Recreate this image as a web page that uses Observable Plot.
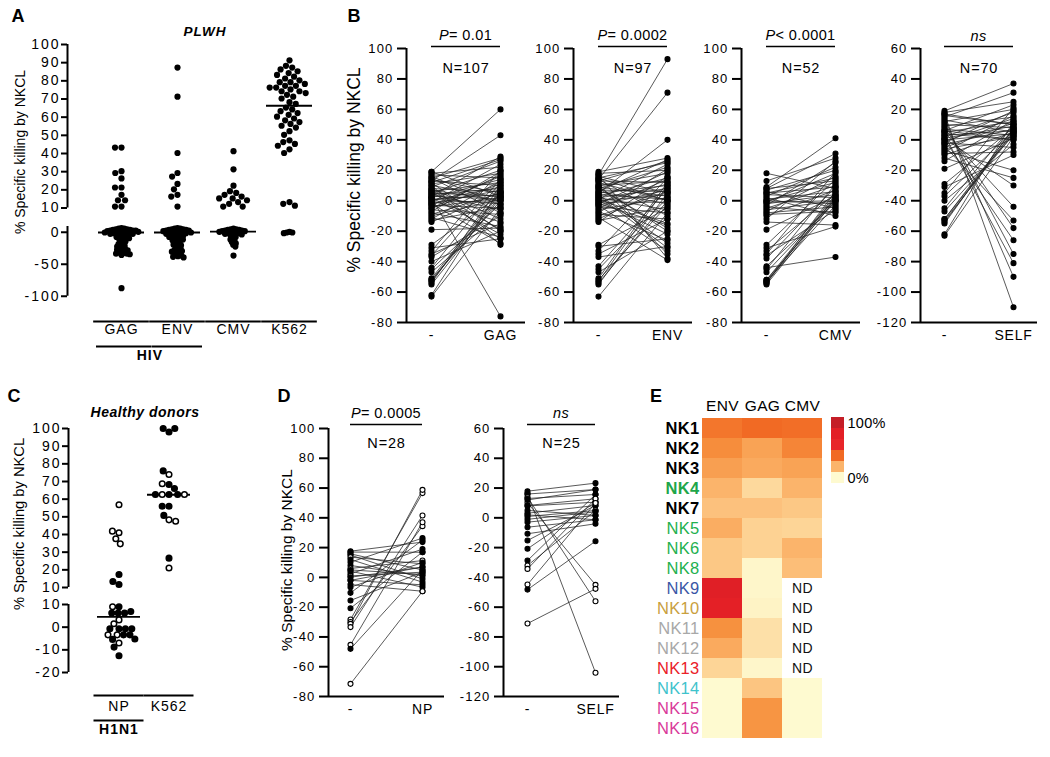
<!DOCTYPE html>
<html><head><meta charset="utf-8">
<script src="https://cdn.jsdelivr.net/npm/d3@7"></script>
<script src="https://cdn.jsdelivr.net/npm/@observablehq/plot@0.6"></script>
<style>
html,body{margin:0;padding:0;background:#fff;}
#fig{position:relative;width:1050px;height:757px;overflow:hidden;background:#fff;}
</style></head>
<body><div id="fig"></div>
<script>
// ---------------- DATA ----------------
// Panel A (PLWH) – % specific killing by NKCL
const A_CATS = ["GAG", "ENV", "CMV", "K562"];
const A_GAG = [43, 43, 30, 29, 26, 21, 21, 17, 14, 14, 10.5, 10.5,
  7, 6, 6, 5, 5, 4, 4, 3, 3, 3, 2, 2, 1, 1, 1, 0, 0, 0, -1, -1, -2, -2, -3, -4, -5, -6, -7, -8, -9,
  -11, -12, -14, -15, -17, -18, -20, -21, -22, -24, -25, -26, -27, -28, -30, -31, -32, -33, -33, -34, -35, -87];
const A_ENV = [87, 71, 40, 29, 27, 23, 20, 17, 16, 10.5,
  7, 6, 6, 5, 5, 4, 4, 3, 3, 2, 2, 1, 1, 0, 0, 0, -1, -1, -2, -3, -4, -4, -5, -6, -7, -8, -9,
  -10, -11, -12, -13, -15, -16, -18, -19, -20, -22, -24, -25, -27, -28, -29, -30, -31, -33, -35, -36, -37, -38, -39];
const A_CMV = [41, 31, 22, 19, 18, 17, 16, 15, 15, 14, 13, 12, 10.5, 10.5,
  6, 5, 5, 4, 4, 3, 3, 2, 2, 1, 1, 0, 0, -1, -1, -2, -3, -4, -5, -7, -9, -11, -13, -15, -17, -19, -22, -36];
const A_K562 = [91, 88, 87, 86, 85, 84, 83, 82, 81, 80, 79, 79, 78, 77, 77, 76, 76, 75, 74, 74, 73, 72, 71, 70,
  68, 67, 65, 64, 63, 62, 61, 60, 59, 58, 57, 56, 55, 54, 52, 50, 47, 46, 45, 44, 42, 40,
  13, 12, 11, 1, 0, 0, -1];
const A_MEDIAN = [0, 0, 1.5, 66];

// Panel B (PLWH, paired)
const B_GAG_UNSTIM = [-63, -62, -55, -54, -53, -52, -52, -51, -47, -45, -44, -40, -37, -36, -35, -33, -31, -29, -19,
  19, 13, 2,
  18, 17, 16, 15, 14, 13, 12, 11, 10, 9, 8, 8, 7, 6, 6, 5, 5, 4, 4, 3, 3, 2, 2, 1, 1, 0, 0, -1, -1, -2,
  -2, -3, -3, -4, -5, -6, -7, -8, -9, -10, -11, -12, -13, -14, 10, 12, 7, 15, 19, -5];
const B_GAG_STIM = [-5, 8, 2, 10, 5, 0, 3, 6, -8, -2, 12, -20, -10, 14, -15, 20, -25, 4, -18,
  60, 43, -76,
  22, 15, -3, 28, 5, 10, -20, 18, 2, 26, -12, 6, 0, 12, -25, 3, 20, -6, 8, 1, 29, -22, 14, 4, -2, 9, -14, 24, 0, 7,
  -28, 16, -5, 2, 11, -9, 19, -17, 5, 1, -24, 13, -4, 6, -29, 27, -19, -8, 3, 17];
const B_ENV_UNSTIM = [17, 14, 5, -63, -55, -54, -53, -52, -51, -47, -45, -43, -37, -35, -33, -30, -29,
  19, 18, 17, 16, 15, 14, 13, 12, 11, 10, 9, 8, 8, 7, 6, 6, 5, 4, 4, 3, 2, 2, 1, 1, 0, 0, -1, -1, -2, -3,
  -3, -4, -5, -6, -7, -8, -9, -10, -11, -12, -13, -14, 9, 13, -2, 15, 3, 10];
const B_ENV_STIM = [93, 71, 40, -8, 5, 0, 10, -3, 12, -20, 2, 8, -30, -12, 15, -25, -5,
  28, 20, -38, 5, 25, -10, 12, 0, -35, 18, 3, -18, 22, 6, -2, 27, 10, -28, 1, 15, -6, 8, 24, -15, 4, -22, 11, -1, 19, -33,
  7, -8, 14, 2, -26, 21, -12, 6, -39, 9, -4, 16, -20, 26, -16, 0, -31, 13];
const B_CMV_UNSTIM = [18, 13, 9, 8, 7, 6, 5, 4, 3, 2, 1, 0, 0, -1, -2, -3, -4, -5, -6, -7, -8, -10, -12, -14, -19,
  -29, -31, -33, -35, -36, -38, -43, -44, -45, -47, -52, -52, -53, -53, -54, -55, -54, 5, -1, 8, -9];
const B_CMV_STIM = [8, 28, 41, 31, 20, -5, 15, 2, 22, -10, 6, 12, -2, 18, 4, 25, -8, 10, 0, 16, -4, 7, 26, -16, 3,
  14, -17, 5, 19, -6, 9, -1, -37, 11, 1, 0, 4, 2, -3, 6, 1, 3, 9, 0, 13, -7];
const B_SELF_UNSTIM = [19, 18, 17, 16, 15, 14, 13, 12, 11, 10, 9, 8, 7, 6, 5, 5, 4, 3, 3, 2, 1, 1, 0, 0, -1, -2, -3,
  -4, -5, -6, -7, -8, -9, -10, -12, -14, -19, -29, -31, -35, -37, -40, -45, -47, -52, -52, -53, -54, -55, -62, -63, 17, 6, -2];
const B_SELF_STIM = [37, 25, -110, 10, 31, -90, 5, 20, -75, 8, 15, -58, 3, 23, -44, 12, 0, -81, 6, 18, -30, 9, 4, -66,
  14, -5, 7, -53, 11, 2, -20, 16, -8, 5, -25, 13, 1, 8, -10, 21, 6, -3, 10, 3, 5, 7, 4, 6, 8, 12, 2, 10, 0, 19];

// Panel C (healthy donors)
const C_CATS = ["NP", "K562"];
const C_NP = [56.8, 41, 41.9, 37.6, 34.7, 17.4, 11.7, 13.4, 9, 9, 6.2, 6.2, 6.2, 6.9, 3.2, 1.5, -0.7, -0.7, -0.7, -0.7,
  -3.4, -3.4, -3.4, -3.4, -5.4, -5.2, -7, -8.8, -12.6];
const C_NP_OPEN = [1, 1, 1, 1, 1, 0, 0, 0, 0, 1, 0, 0, 0, 0, 1, 1, 0, 0, 0, 0, 1, 0, 0, 1, 0, 0, 1, 0, 0];
const C_K562 = [98, 100, 100, 74, 76, 68.3, 68.7, 66, 62.6, 62.6, 62.6, 62.6, 62.6, 56, 56, 48.3, 50.8, 47.5, 26.6, 21];
const C_K562_OPEN = [0, 0, 0, 1, 0, 0, 1, 0, 0, 1, 0, 0, 1, 0, 0, 1, 0, 1, 0, 1];
const C_MEDIAN = [4.5, 62.5];

// Panel D (healthy donors, paired)
const D_NP_UNSTIM = [17.6, 17, 15.8, 15, 13.6, 12, 10.2, 8, 6, 4.2, 2.4, 1, 0.1, -2, -4.8, -6.6, -10.4, -15.5, -20.7,
  -28.3, -30, -31.2, -33.4, -45.3, -48, -71.5, -2, 5];
const D_NP_STIM = [23.7, 16.9, 5, -1, 9.1, -3.2, 26.4, 1, 11.3, -6.6, 19, 3.5, 6.9, 7, -9.3, 10, 25, 3.5, 17,
  56.6, 34.4, 58.8, 41.6, 37, 5, -9.3, -5, 2];
const D_NP_OPEN = [0, 0, 0, 0, 1, 0, 0, 0, 1, 0, 0, 1, 0, 0, 0, 0, 0, 0, 0, 1, 1, 1, 1, 1, 0, 1, 0, 0];
const D_SELF_UNSTIM = [17.9, 16.1, 16, 13.9, 13, 10.1, 8.3, 8, 3.1, 0.9, -2.9, -6.3, -10.7, -15.2, -20.8, -28.7, -32,
  -34.3, -44.8, -48.2, -71, 5, 12, 2, -1];
const D_SELF_STIM = [23.3, -104, 19, -56, 15.7, -45, 12.8, 10.5, 8.3, 4.9, 1.6, -1.3, -4, 8.3, 10.5, 15.7, 4.9, 12.8,
  10, -15.7, -47.7, 1.6, 19, -1.3, 4];
const D_SELF_OPEN = [0, 1, 0, 1, 0, 1, 0, 0, 0, 0, 0, 0, 0, 0, 0, 0, 1, 1, 1, 0, 1, 0, 0, 0, 0];

// Panel E heatmap
const E_COLS = ["ENV", "GAG", "CMV"];
const E_ROWS = ["NK1", "NK2", "NK3", "NK4", "NK7", "NK5", "NK6", "NK8", "NK9", "NK10", "NK11", "NK12", "NK13", "NK14", "NK15", "NK16"];
const E_ENV = [37, 31, 26, 20, 16, 22, 14, 14, 82, 78, 30, 23, 10, 0, 0, 0];
const E_GAG = [40, 25, 23, 9, 16, 11, 11, 1, 1, 2, 7, 7, 1, 15, 29, 29];
const E_CMV = [39, 33, 25, 20, 14, 10, 20, 17, null, null, null, null, null, 0, 0, 0];
const E_ROW_COLORS = ["#000", "#000", "#000", "#1fa64a", "#000", "#22b04e", "#22b04e", "#22b04e", "#3a56a6", "#c9a03e",
  "#a8a8a8", "#a8a8a8", "#ea2128", "#3fc3cc", "#d93a99", "#d93a99"];
const E_ROW_BOLD = ["NK1", "NK2", "NK3", "NK4", "NK7"];
const E_LEGEND = [100, 80, 60, 40, 20, 0];

// ---------------- HELPERS ----------------
const FONT = "'Liberation Sans', Arial, Helvetica, sans-serif";
const fig = document.getElementById("fig");
function place(node, left, top) {
  node.style.position = "absolute";
  node.style.left = left + "px";
  node.style.top = top + "px";
  fig.appendChild(node);
  return node;
}
function css(fs, ls) {
  return {fontFamily: FONT, fontSize: fs + "px", letterSpacing: ls + "px", color: "#000", background: "transparent", overflow: "visible"};
}
function txt(html, cx, cy, extra = "", rotate = false) {
  const d = document.createElement("div");
  d.innerHTML = html;
  d.style.cssText = `position:absolute;left:${cx}px;top:${cy}px;font-family:${FONT};white-space:nowrap;line-height:1;color:#000;` +
    `transform:translate(-50%,-50%)${rotate ? " rotate(-90deg)" : ""};${extra}`;
  fig.appendChild(d);
  return d;
}
const fmt = d => String(d);
function yAxis({x, top, bottom, domain, ticks, fs = 13, ls = 1.2, tickSize = 6, tickPadding = 2}) {
  const pad = 12;
  return place(Plot.plot({
    width: x + 2, height: bottom - top + 2 * pad,
    marginLeft: x, marginRight: 2, marginTop: pad, marginBottom: pad,
    x: {domain: [0, 1], axis: null},
    y: {domain},
    style: css(fs, ls),
    marks: [
      Plot.ruleX([0], {strokeWidth: 2}),
      Plot.axisY({ticks, tickSize, tickPadding, strokeWidth: 2, tickFormat: fmt, label: null, anchor: "left"})
    ]
  }), 0, top - pad);
}
const black = "#000";

// ---------------- PANEL A ----------------
const aData = A_CATS.flatMap((c, i) => [A_GAG, A_ENV, A_CMV, A_K562][i].map(v => ({cat: c, v})));
const aMed = A_CATS.map((c, i) => ({cat: c, v: A_MEDIAN[i]}));
const aFx = {domain: A_CATS, paddingInner: 0.1, paddingOuter: 0.485, axis: null};
const aStep = (343 - 67) / (4 - 0.1 + 2 * 0.485);
const aGap = aStep * 0.1 / 2;

yAxis({x: 67, top: 43.5, bottom: 207, domain: [10, 100], ticks: d3.range(10, 101, 10), fs: 14, ls: 2, tickSize: 6, tickPadding: 1});
yAxis({x: 67, top: 226.24, bottom: 296, domain: [-100, 9], ticks: [0, -50, -100], fs: 14, ls: 2, tickSize: 6, tickPadding: 1});

place(Plot.plot({
  width: 343, height: 217, marginLeft: 67, marginRight: 0, marginTop: 43.5, marginBottom: 10,
  fx: aFx, y: {domain: [10, 100], axis: null},
  style: css(14, 1),
  marks: [
    Plot.dot(aData.filter(d => d.v >= 10), Plot.dodgeX({anchor: "middle", padding: 0.3}, {fx: "cat", y: "v", r: 3.1, fill: black})),
    Plot.ruleY(aMed.filter(d => d.v >= 10), {fx: "cat", y: "v", insetLeft: 2, insetRight: 2, strokeWidth: 1.8})
  ]
}), 0, 0);

place(Plot.plot({
  width: 343, height: 146, marginLeft: 67, marginRight: 0, marginTop: 6.24, marginBottom: 70,
  fx: aFx, y: {domain: [-100, 9], axis: null},
  style: css(14, 1),
  marks: [
    Plot.dot(aData.filter(d => d.v < 10), Plot.dodgeX({anchor: "middle", padding: -0.7}, {fx: "cat", y: "v", r: 1.8, fill: black, stroke: black, strokeWidth: 2.6})),
    Plot.ruleY(aMed.filter(d => d.v < 10), {fx: "cat", y: "v", insetLeft: 2, insetRight: 2, strokeWidth: 1.8}),
    Plot.ruleY([-100], {dy: 25, insetLeft: -aGap, insetRight: -aGap, strokeWidth: 2}),
    Plot.text(A_CATS, {fx: d => d, text: d => d, frameAnchor: "bottom", dy: 37, fontSize: 14}),
    Plot.ruleY(["GAG"], {fx: d => d, y: () => -100, dy: 50, insetRight: -2 * aGap, strokeWidth: 2}),
    Plot.ruleY(["ENV"], {fx: d => d, y: () => -100, dy: 50, strokeWidth: 2}),
    Plot.text(["HIV"], {fx: () => "GAG", text: d => d, frameAnchor: "bottom", dy: 63, dx: aStep / 2, fontSize: 14, fontWeight: "bold"})
  ]
}), 0, 220);

txt("A", 18, 16, "font-size:18px;font-weight:bold;");
txt("PLWH", 205, 32, "font-size:13.5px;font-weight:bold;font-style:italic;letter-spacing:1px;");
txt("% Specific killing by NKCL", 20, 152, "font-size:14px;", true);

// ---------------- PAIRED PANELS (B, D) ----------------
function pairPanel(o) {
  const width = o.step + 2 * o.off;
  const pairs = d3.zip(o.unstim, o.stim).map(([a, b], i) => ({a, b, open: o.open ? !!o.open[i] : false}));
  const fill = d => d.open ? "#fff" : "#000";
  yAxis({x: o.axisX, top: o.top, bottom: o.bottom, domain: o.domain, ticks: o.ticks, fs: 13, ls: 1.2, tickSize: 9, tickPadding: 4});
  place(Plot.plot({
    width, height: o.bottom - o.panelTop + 40,
    marginLeft: 0, marginRight: 0, marginTop: o.top - o.panelTop, marginBottom: 40,
    x: {type: "point", domain: ["-", o.cat], padding: o.off / o.step},
    y: {domain: o.domain, axis: null},
    style: css(14, 0.8),
    marks: [
      Plot.ruleY([o.domain[0]], {strokeWidth: 2}),
      Plot.axisX({tickSize: 0, tickPadding: 8, fontSize: 14, label: null}),
      Plot.link(pairs, {x1: () => "-", x2: () => o.cat, y1: "a", y2: "b", stroke: "#222", strokeWidth: 0.75}),
      Plot.dot(pairs, {x: () => "-", y: "a", r: 2.5, fill, stroke: black, strokeWidth: 1.1}),
      Plot.dot(pairs, {x: () => o.cat, y: "b", r: 2.5, fill, stroke: black, strokeWidth: 1.1}),
      Plot.ruleY([o.domain[1]], {x1: () => "-", x2: () => o.cat, dy: o.pDy, strokeWidth: 1.6}),
      Plot.text([o.nText], {text: d => d, frameAnchor: "top", dy: o.nDy, fontSize: 14.5, letterSpacing: 0.4})
    ]
  }), o.axisX, o.panelTop);
  txt(o.pHtml, o.axisX + width / 2, o.pY, "font-size:14.5px;letter-spacing:0.4px;");
}

const bTicks = d3.range(-80, 101, 20);
const bSelfTicks = d3.range(-120, 61, 20);
pairPanel({axisX: 406, off: 25, step: 69, top: 48, bottom: 322, panelTop: 0, domain: [-80, 100], ticks: bTicks,
  cat: "GAG", unstim: B_GAG_UNSTIM, stim: B_GAG_STIM, pHtml: "<i>P</i>= 0.01", pY: 34.5, pDy: -2, nText: "N=107", nDy: 14});
pairPanel({axisX: 573, off: 25, step: 69, top: 48, bottom: 322, panelTop: 0, domain: [-80, 100], ticks: bTicks,
  cat: "ENV", unstim: B_ENV_UNSTIM, stim: B_ENV_STIM, pHtml: "<i>P</i>= 0.0002", pY: 34.5, pDy: -2, nText: "N=97", nDy: 14});
pairPanel({axisX: 741, off: 25, step: 69, top: 48, bottom: 322, panelTop: 0, domain: [-80, 100], ticks: bTicks,
  cat: "CMV", unstim: B_CMV_UNSTIM, stim: B_CMV_STIM, pHtml: "<i>P</i>&lt; 0.0001", pY: 34.5, pDy: -2, nText: "N=52", nDy: 14});
pairPanel({axisX: 920, off: 24, step: 69, top: 48, bottom: 322, panelTop: 0, domain: [-120, 60], ticks: bSelfTicks,
  cat: "SELF", unstim: B_SELF_UNSTIM, stim: B_SELF_STIM, pHtml: "<i>ns</i>", pY: 35.5, pDy: -2, nText: "N=70", nDy: 14});

txt("B", 354, 16, "font-size:18px;font-weight:bold;");
txt("% Specific killing by NKCL", 355, 170, "font-size:17.5px;", true);

pairPanel({axisX: 328, off: 22, step: 72, top: 428, bottom: 696, panelTop: 380, domain: [-80, 100], ticks: bTicks,
  cat: "NP", unstim: D_NP_UNSTIM, stim: D_NP_STIM, open: D_NP_OPEN, pHtml: "<i>P</i>= 0.0005", pY: 413, pDy: -4, nText: "N=28", nDy: 9});
pairPanel({axisX: 503, off: 24, step: 68, top: 428, bottom: 696, panelTop: 380, domain: [-120, 60], ticks: bSelfTicks,
  cat: "SELF", unstim: D_SELF_UNSTIM, stim: D_SELF_STIM, open: D_SELF_OPEN, pHtml: "<i>ns</i>", pY: 413, pDy: -4, nText: "N=25", nDy: 9});

txt("D", 284, 396, "font-size:18px;font-weight:bold;");
txt("% Specific killing by NKCL", 287, 560, "font-size:15.5px;", true);

// ---------------- PANEL C ----------------
const cData = [
  ...C_NP.map((v, i) => ({cat: "NP", v, open: !!C_NP_OPEN[i]})),
  ...C_K562.map((v, i) => ({cat: "K562", v, open: !!C_K562_OPEN[i]}))
];
const cMed = C_CATS.map((c, i) => ({cat: c, v: C_MEDIAN[i]}));
const cFx = {domain: C_CATS, paddingInner: 0.1, paddingOuter: 0.55, axis: null};
const cStep = (218 - 68) / (2 - 0.1 + 2 * 0.55);
const cGap = cStep * 0.1 / 2;
const cFill = d => d.open ? "#fff" : "#000";

yAxis({x: 68, top: 428, bottom: 587, domain: [10, 100], ticks: d3.range(10, 101, 10), fs: 14, ls: 2, tickSize: 6, tickPadding: 1});
yAxis({x: 68, top: 604, bottom: 672, domain: [-20, 10], ticks: [10, 0, -10, -20], fs: 14, ls: 2, tickSize: 6, tickPadding: 1});

place(Plot.plot({
  width: 218, height: 217, marginLeft: 68, marginRight: 0, marginTop: 48, marginBottom: 10,
  fx: cFx, y: {domain: [10, 100], axis: null},
  style: css(14, 1),
  marks: [
    Plot.ruleY(cMed.filter(d => d.v >= 10), {fx: "cat", y: "v", insetLeft: 1, insetRight: 1, strokeWidth: 1.8}),
    Plot.dot(cData.filter(d => d.v >= 10), Plot.dodgeX({anchor: "middle", padding: 1.2}, {fx: "cat", y: "v", r: 2.8, fill: cFill, stroke: black, strokeWidth: 1.5}))
  ]
}), 0, 380);

place(Plot.plot({
  width: 218, height: 152, marginLeft: 68, marginRight: 0, marginTop: 14, marginBottom: 70,
  fx: cFx, y: {domain: [-20, 10], axis: null},
  style: css(14, 1),
  marks: [
    Plot.ruleY(cMed.filter(d => d.v < 10), {fx: "cat", y: "v", insetLeft: 1, insetRight: 1, strokeWidth: 1.8}),
    Plot.dot(cData.filter(d => d.v < 10), Plot.dodgeX({anchor: "middle", padding: 0.8}, {fx: "cat", y: "v", r: 2.8, fill: cFill, stroke: black, strokeWidth: 1.5})),
    Plot.ruleY([-20], {dy: 23, insetLeft: -cGap, insetRight: -cGap, strokeWidth: 2}),
    Plot.text(C_CATS, {fx: d => d, text: d => d, frameAnchor: "bottom", dy: 38, fontSize: 14}),
    Plot.ruleY(["NP"], {fx: d => d, y: () => -20, dy: 48, insetLeft: -cGap, insetRight: -cGap, strokeWidth: 2}),
    Plot.text(["H1N1"], {fx: () => "NP", text: d => d, frameAnchor: "bottom", dy: 61, fontSize: 14, fontWeight: "bold"})
  ]
}), 0, 590);

txt("C", 14, 396, "font-size:18px;font-weight:bold;");
txt("Healthy donors", 145, 412, "font-size:14px;font-weight:bold;font-style:italic;letter-spacing:0.5px;");
txt("% Specific killing by NKCL", 19, 524, "font-size:14.7px;", true);

// ---------------- PANEL E ----------------
const heatColor = {
  type: "linear",
  domain: [0, 10, 20, 30, 40, 60, 80, 100],
  range: ["#fefad0", "#fdd597", "#fbb46b", "#f6913f", "#f16a24", "#e8262a", "#e31f26", "#c51e27"]
};
const eCells = E_ROWS.flatMap((r, i) => E_COLS.map((c, j) => ({row: r, col: c, v: [E_ENV, E_GAG, E_CMV][j][i]})));
const eRows = E_ROWS.map((name, i) => ({name, color: E_ROW_COLORS[i], bold: E_ROW_BOLD.includes(name)}));

place(Plot.plot({
  width: 192, height: 367, marginLeft: 61, marginRight: 10, marginTop: 34, marginBottom: 5,
  x: {domain: E_COLS, padding: 0, axis: "top", tickSize: 0, tickPadding: 4, label: null},
  y: {domain: E_ROWS, padding: 0, axis: null},
  color: heatColor,
  style: css(15.5, 0.3),
  marks: [
    Plot.cell(eCells.filter(d => d.v != null), {x: "col", y: "row", fill: "v"}),
    Plot.text(eCells.filter(d => d.v == null), {x: "col", y: "row", text: () => "ND", fontSize: 14, fill: "#111"}),
    Plot.text(eRows.filter(d => d.bold), {y: "name", text: "name", fill: "color", frameAnchor: "left", dx: -2, textAnchor: "end", fontSize: 16.5, fontWeight: "bold"}),
    Plot.text(eRows.filter(d => !d.bold), {y: "name", text: "name", fill: "color", frameAnchor: "left", dx: -2, textAnchor: "end", fontSize: 16.5})
  ]
}), 640, 380);

place(Plot.plot({
  width: 64, height: 80, marginLeft: 6, marginRight: 45, marginTop: 6, marginBottom: 6,
  x: {domain: ["c"], padding: 0, axis: null},
  y: {type: "band", domain: E_LEGEND, padding: 0, axis: null},
  color: heatColor,
  style: css(14, 0.3),
  marks: [
    Plot.cell(E_LEGEND, {x: () => "c", y: d => d, fill: d => d}),
    Plot.text([100, 0], {y: d => d, text: d => d + "%", frameAnchor: "right", dx: 3, textAnchor: "start", fontSize: 14.5})
  ]
}), 825, 410);

txt("E", 656, 396, "font-size:18px;font-weight:bold;");
</script>
</body></html>
